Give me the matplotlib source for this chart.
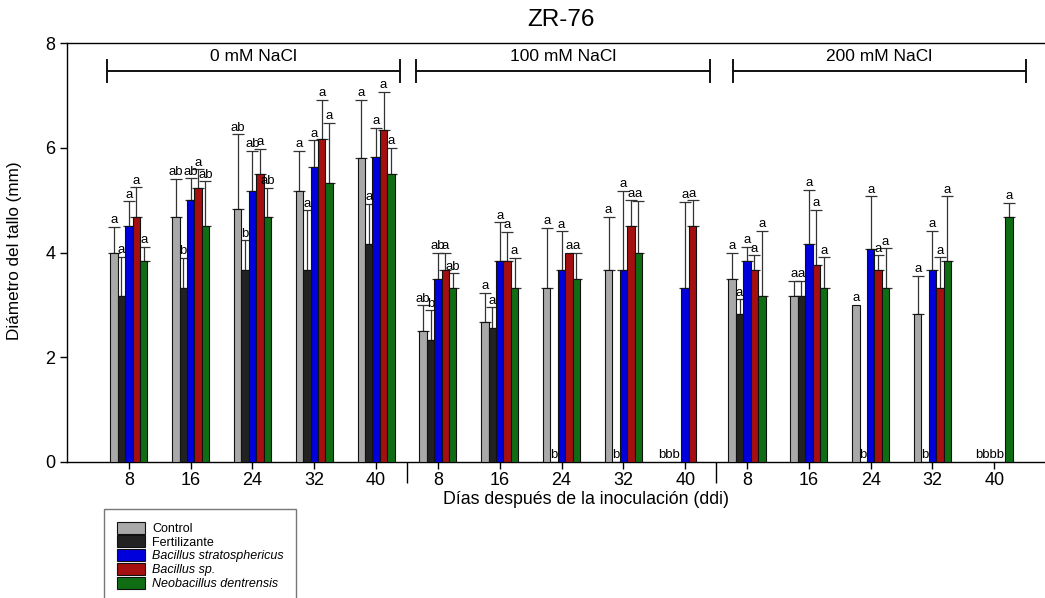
import matplotlib
matplotlib.use("Agg")
import matplotlib.pyplot as plt
import numpy as np

plt.rcParams["font.family"] = ["Liberation Sans", "DejaVu Sans"]

days = [8, 16, 24, 32, 40]
salts = ["0 mM NaCl", "100 mM NaCl", "200 mM NaCl"]
treatments = ["Control", "Fertilizante", "Bacillus stratosphericus",
              "Bacillus sp.", "Neobacillus dentrensis"]
colors = ["#a9a9a9", "#222222", "#0000dd", "#a50f0f", "#0f6e14"]

# stem diameter (mm), 0 / 100 / 200 mM NaCl x 8..40 ddi
control = [4.00, 4.67, 4.83, 5.17, 5.80, 2.50, 2.67, 3.33, 3.67, 0, 3.50, 3.17, 3.00, 2.83, 0]
fertil = [3.17, 3.33, 3.67, 3.67, 4.17, 2.33, 2.56, 0, 0, 0, 2.83, 3.17, 0, 0, 0]
b_strat = [4.50, 5.00, 5.17, 5.63, 5.83, 3.50, 3.83, 3.67, 3.67, 3.33, 3.83, 4.17, 4.06, 3.67, 0]
b_sp = [4.67, 5.24, 5.50, 6.17, 6.33, 3.67, 3.83, 4.00, 4.50, 4.50, 3.67, 3.76, 3.67, 3.33, 0]
neob = [3.83, 4.50, 4.67, 5.33, 5.50, 3.33, 3.33, 3.50, 4.00, 0, 3.17, 3.33, 3.33, 3.83, 4.67]

# upper error (SD)
control_err = [0.49, 0.74, 1.43, 0.77, 1.12, 0.49, 0.56, 1.14, 1.01, 0, 0.50, 0.29, 0, 0.73, 0]
fertil_err = [0.75, 0.57, 0.56, 1.14, 0.76, 0.57, 0.39, 0, 0, 0, 0.28, 0.29, 0, 0, 0]
b_strat_err = [0.48, 0.42, 0.77, 0.51, 0.55, 0.50, 0.75, 0.74, 1.51, 1.64, 0.28, 1.03, 1.02, 0.75, 0]
b_sp_err = [0.58, 0.35, 0.48, 0.75, 0.74, 0.33, 0.57, 0, 0.50, 0.50, 0.28, 1.06, 0.28, 0.58, 0]
neob_err = [0.28, 0.86, 0.57, 1.15, 0.50, 0.28, 0.57, 0.50, 0.99, 0, 1.25, 0.58, 0.75, 1.25, 0.28]

control_let = ["a", "ab", "ab", "a", "a", "ab", "a", "a", "a", "b", "a", "a", "a", "a", "b"]
fertil_let = ["a", "b", "b", "a", "a", "b", "a", "b", "b", "b", "a", "a", "b", "b", "b"]
b_strat_let = ["a", "ab", "ab", "a", "a", "ab", "a", "a", "a", "a", "a", "a", "a", "a", "b"]
b_sp_let = ["a", "a", "a", "a", "a", "a", "a", "a", "a", "a", "a", "a", "a", "a", "b"]
neob_let = ["a", "ab", "ab", "a", "a", "ab", "a", "a", "a", "b", "a", "a", "a", "a", "a"]

means = [control, fertil, b_strat, b_sp, neob]
errs = [control_err, fertil_err, b_strat_err, b_sp_err, neob_err]
letters = [control_let, fertil_let, b_strat_let, b_sp_let, neob_let]

W, H = 1045, 598
fig = plt.figure(figsize=(W / 100, H / 100), dpi=100)
ax = fig.add_axes([67 / W, (H - 462) / H, (W - 67) / W, (462 - 43) / H])

n = len(salts) * len(days)
pos = np.arange(n)
w = 0.12
handles = []
for k, (m, e, c) in enumerate(zip(means, errs, colors)):
    x = pos + (k - 2) * w
    b = ax.bar(x, m, w, color=c, edgecolor="#111111", linewidth=0.8, zorder=3)
    handles.append(b)
    m_arr, e_arr = np.array(m), np.array(e)
    ok = e_arr > 0
    ax.errorbar(x[ok], m_arr[ok], yerr=[np.zeros(ok.sum()), e_arr[ok]], fmt="none",
                ecolor="#333333", elinewidth=0.9, capsize=4.5, capthick=0.9, zorder=2)

# significance letters
for i in range(n):
    zero = [k for k in range(5) if means[k][i] == 0]
    for k in range(5):
        if means[k][i] == 0:
            continue
        x = i + (k - 2) * w
        ax.annotate(letters[k][i], (x, means[k][i] + errs[k][i]), xytext=(0, 0.3),
                    textcoords="offset points", ha="center", va="bottom", fontsize=9.5)
    if len(zero) == 1:
        k = zero[0]
        ax.text(i + (k - 2) * w, 0.02, letters[k][i], ha="center", va="bottom", fontsize=9.5)
    elif zero:
        nxt = [k for k in range(5) if k not in zero][0]
        ax.text(i + (nxt - 2) * w - w / 2 - 0.02, 0.02, "".join(letters[k][i] for k in zero),
                ha="right", va="bottom", fontsize=9.5)

# salinity brackets
spans = [(-0.36, 4.39), (4.64, 9.40), (9.77, 14.51)]
for (x0, x1), s in zip(spans, salts):
    ax.plot([x0, x1], [7.47, 7.47], color="#111111", lw=1.4)
    for xe in (x0, x1):
        ax.plot([xe, xe], [7.26, 7.68], color="#111111", lw=1.4)
    ax.text((x0 + x1) / 2, 7.6, s, ha="center", va="bottom", fontsize=12.5)

ax.set_xlim(-1, 14.82)
ax.set_ylim(0, 8)
ax.set_yticks([0, 2, 4, 6, 8])
ax.set_xticks(pos)
ax.set_xticklabels([str(d) for d in days] * len(salts))
ax.set_xticks([4.5, 9.5], minor=True)
ax.tick_params(axis="both", which="major", direction="out", length=5, width=1, labelsize=13)
ax.tick_params(axis="x", which="major", pad=2)
ax.tick_params(axis="x", which="minor", direction="out", length=15, width=1)
ax.spines["right"].set_visible(False)
for sp in ("left", "bottom", "top"):
    ax.spines[sp].set_linewidth(1.0)

fig.text(561 / W, 1 - 20 / H, "ZR-76", ha="center", va="center", fontsize=17.5)
fig.text(586 / W, 1 - 500 / H, "Días después de la inoculación (ddi)", ha="center",
         va="center", fontsize=12.8)
fig.text(15 / W, 1 - 251 / H, "Diámetro del tallo (mm)", ha="center", va="center",
         rotation=90, fontsize=12.3)

leg = fig.legend(handles, treatments, loc="upper left", bbox_to_anchor=(104 / W, 1 - 509 / H),
                 frameon=True, fancybox=False, edgecolor="#555555", fontsize=9,
                 handlelength=2.3, handleheight=1.1, labelspacing=0.05, borderpad=1.0,
                 handletextpad=0.55, borderaxespad=0)
leg.get_frame().set_linewidth(1.0)
for t in leg.get_texts()[2:]:
    t.set_fontstyle("italic")

fig.savefig("out.png", dpi=100)
